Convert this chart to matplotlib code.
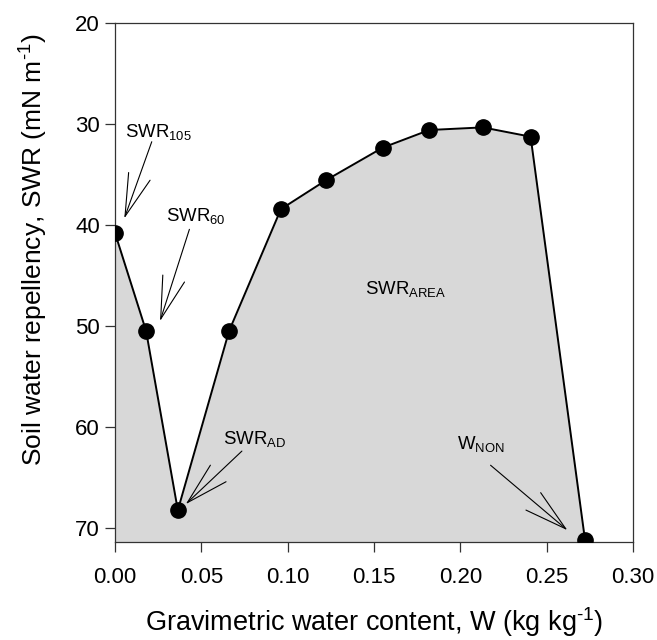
import matplotlib
matplotlib.use("Agg")
import matplotlib.pyplot as plt
import numpy as np

plt.rcParams['font.family'] = ['Liberation Sans', 'DejaVu Sans']
plt.rcParams['mathtext.fontset'] = 'custom'
plt.rcParams['mathtext.rm'] = 'Liberation Sans'
plt.rcParams['mathtext.it'] = 'Liberation Sans:italic'
plt.rcParams['mathtext.bf'] = 'Liberation Sans:bold'

# Data
w = [0.000, 0.018, 0.0364, 0.0661, 0.0961, 0.1224, 0.155, 0.182, 0.213, 0.2407, 0.2722]
swr = [40.8, 50.5, 68.25, 50.5, 38.45, 35.57, 32.37, 30.62, 30.36, 31.28, 71.2]

x_ticks = [0.00, 0.05, 0.10, 0.15, 0.20, 0.25, 0.30]
x_ticklabels = ["0.00", "0.05", "0.10", "0.15", "0.20", "0.25", "0.30"]
y_ticks = [20, 30, 40, 50, 60, 70]

ylim_bottom = 71.4
ylim_top = 20

# annotations: (text, text_x, text_y, tail_x, tail_y, tip_x, tip_y)
annots = [
    (r"SWR$_{\mathrm{105}}$", 0.0058, 31.33, 0.0213, 31.78, 0.0054, 39.37),
    (r"SWR$_{\mathrm{60}}$", 0.0296, 39.6, 0.0431, 40.45, 0.0261, 49.53),
    (r"SWR$_{\mathrm{AD}}$", 0.0628, 61.72, 0.0735, 62.4, 0.041, 67.65),
    (r"W$_{\mathrm{NON}}$", 0.1982, 62.24, 0.2175, 63.8, 0.262, 70.23),
]
area_label = (r"SWR$_{\mathrm{AREA}}$", 0.145, 46.89)

fig = plt.figure(figsize=(6.57, 6.40), dpi=100)
ax = fig.add_axes([0.175, 0.1531, 0.7885, 0.8114])

ax.fill_between(w, swr, ylim_bottom, color="#d8d8d8", linewidth=0, zorder=1)
ax.plot(w, swr, color="black", linewidth=1.4, zorder=3)
ax.plot(w, swr, 'o', color="black", markersize=11, zorder=4)

ax.set_xlim(0, 0.30)
ax.set_ylim(ylim_bottom, ylim_top)
ax.set_xticks(x_ticks)
ax.set_xticklabels(x_ticklabels)
ax.set_yticks(y_ticks)

for s in ax.spines.values():
    s.set_linewidth(0.9)
    s.set_color("#333333")
ax.tick_params(axis='both', direction='out', length=7.2, width=0.9, color="#333333",
               labelsize=16)
ax.tick_params(axis='x', pad=10.5)
ax.tick_params(axis='y', pad=3.5)

ax.set_xlabel(r"Gravimetric water content, W (kg kg$^{\text{-1}}$)", fontsize=19.5)
ax.xaxis.set_label_coords(0.501, -0.121)
ax.xaxis.label.set_va('top')
ax.set_ylabel(r"Soil water repellency, SWR (mN m$^{\text{-1}}$)", fontsize=19)
ax.yaxis.set_label_coords(-0.125, 0.562)

for txt, tx, ty, ax0, ay0, bx, by in annots:
    ax.text(tx, ty, txt, fontsize=13.4, ha='left', va='baseline', zorder=5)
    ax.annotate("", xy=(bx, by), xytext=(ax0, ay0),
                arrowprops=dict(arrowstyle="->,head_length=3.06,head_width=0.82",
                                color="black", linewidth=0.8,
                                shrinkA=0, shrinkB=0, mutation_scale=10),
                zorder=5)

ax.text(area_label[1], area_label[2], area_label[0], fontsize=13.4,
        ha='left', va='baseline', zorder=5)

fig.savefig("out.png", dpi=100)
